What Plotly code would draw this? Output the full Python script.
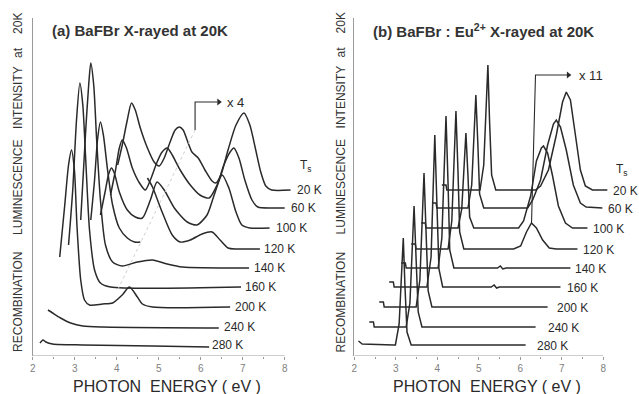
import plotly.graph_objects as go

# ---------------------------------------------------------------------------
# Recombination luminescence spectra after warming to T_s (waterfall plot).
# Energies are photon energies (eV) on the drawn axis, intensities are given
# relative to each spectrum's own baseline (arbitrary units).
# ---------------------------------------------------------------------------
TEMPS = ["20 K", "60 K", "100 K", "120 K", "140 K", "160 K", "200 K", "240 K", "280 K"]
# vertical stacking offset of every spectrum
OFFSETS = [166, 148, 128, 107, 88, 69, 49, 29, 11]

# ---- (a) BaFBr --------------------------------------------------------------
a_20_e = [4.02, 4.13, 4.25, 4.35, 4.44, 4.56, 4.73, 4.89, 5.01, 5.13, 5.27, 5.39, 5.49, 5.58, 5.70,
          5.79, 5.94, 6.10, 6.27, 6.36, 6.48, 6.65, 6.84, 7.03, 7.17, 7.31, 7.43, 7.55, 7.69, 8.14]
a_20_i = [25, 45, 70, 87, 80, 62, 42, 28, 24, 32, 48, 60, 63, 60, 47,
          38, 32, 20, 9, 7, 15, 40, 65, 77, 65, 40, 18, 4, 0, 0]

a_60_e = [3.85, 3.97, 4.06, 4.13, 4.23, 4.37, 4.54, 4.68, 4.80, 4.96, 5.08, 5.20, 5.32, 5.51,
          5.75, 5.98, 6.20, 6.39, 6.55, 6.70, 6.79, 6.91, 7.05, 7.22, 7.36, 7.69, 8.00]
a_60_i = [13, 38, 60, 68, 60, 40, 25, 18, 28, 46, 56, 60, 53, 38,
          23, 13, 10, 23, 43, 56, 60, 50, 28, 8, 1, 0, 0]

a_100_e = [3.61, 3.73, 3.80, 3.87, 3.94, 4.06, 4.25, 4.44, 4.61, 4.80, 4.96, 5.13, 5.37, 5.68,
           5.91, 6.15, 6.32, 6.51, 6.67, 6.84, 6.98, 7.17, 7.64]
a_100_i = [13, 38, 53, 60, 55, 36, 18, 11, 10, 28, 46, 38, 20, 6,
           3, 13, 33, 53, 40, 16, 3, 0, 0]

a_120_e = [3.38, 3.47, 3.54, 3.61, 3.68, 3.78, 3.90, 4.06, 4.25, 4.42, 4.56]
a_120_i = [29, 69, 109, 127, 114, 79, 44, 21, 11, 7, 7]
# x4 magnified part of the 120 K spectrum
a_120x_e = [4.73, 4.85, 5.08, 5.32, 5.51, 5.75, 6.03, 6.27, 6.46, 6.65, 6.86, 7.41]
a_120x_i = [71, 62, 37, 14, 7, 9, 15, 17, 9, 1, 0, 0]

a_140_e = [3.14, 3.26, 3.33, 3.38, 3.45, 3.52, 3.61, 3.73, 3.90, 4.13, 4.49, 4.85, 5.20, 5.56, 7.15]
a_140_i = [48, 138, 183, 205, 183, 128, 68, 23, 6, 2, 6, 8, 4, 1, 0]

a_160_e = [2.85, 2.95, 3.04, 3.12, 3.19, 3.26, 3.35, 3.47, 3.61, 3.85, 6.96]
a_160_i = [42, 97, 167, 204, 182, 127, 57, 17, 4, 0, 0]

a_200_e = [2.64, 2.76, 2.85, 2.92, 2.99, 3.05, 3.14, 3.23, 3.35, 3.66, 3.90, 4.13, 4.30, 4.49,
           4.61, 4.85, 6.70]
a_200_i = [50, 102, 142, 157, 137, 82, 27, 7, 2, 3, 4, 12, 20, 10, 3, 0, 0]

a_240_e = [2.36, 2.47, 2.66, 2.90, 3.19, 3.66, 6.43]
a_240_i = [17, 14, 9, 4, 1, 0, -1]

a_280_e = [2.17, 2.24, 2.31, 2.47, 3.19, 4.85, 6.20]
a_280_i = [2, 5, 3, 1, 0, -1, -2]

# ---- (b) BaFBr:Eu2+ ---------------------------------------------------------
b_20_e = [4.11, 4.21, 4.23, 5.03, 5.12, 5.17, 5.22, 5.26, 5.31, 5.41, 6.37, 6.49, 6.68, 6.87,
          7.02, 7.11, 7.21, 7.33, 7.45, 7.57, 7.74, 8.10]
b_20_i = [5, 5, 0, 0, 25, 81, 125, 69, 15, 0, 0, 4, 20, 55, 88, 98, 90, 55, 20, 4, 0, 0]

b_60_e = [3.87, 3.97, 3.99, 4.74, 4.83, 4.88, 4.93, 4.98, 5.02, 5.12, 6.18, 6.30, 6.49, 6.66,
          6.80, 6.87, 6.97, 7.11, 7.28, 7.45, 7.59, 7.98]
b_60_i = [5, 5, 0, 0, 23, 73, 113, 62, 14, 0, 0, 8, 28, 63, 84, 88, 81, 58, 23, 5, 1, 0]

b_100_e = [3.61, 3.71, 3.73, 4.50, 4.59, 4.64, 4.69, 4.74, 4.78, 4.88, 5.96, 6.08, 6.25, 6.39,
           6.51, 6.56, 6.66, 6.78, 6.92, 7.09, 7.26, 7.62]
b_100_i = [5, 5, 0, 0, 19, 62, 95, 52, 11, 0, 0, 7, 32, 67, 80, 82, 75, 52, 22, 5, 0, 0]

b_120_e = [3.37, 3.47, 3.49, 4.26, 4.35, 4.40, 4.45, 4.50, 4.54, 4.64, 5.84, 6.01, 6.15, 6.27,
           6.39, 6.54, 6.70, 6.87, 7.38]
b_120_i = [5, 5, 0, 0, 28, 90, 138, 76, 17, 0, 0, 3, 17, 26, 21, 9, 1, 0, 0]

b_140_e = [3.13, 3.23, 3.25, 4.02, 4.11, 4.16, 4.21, 4.26, 4.30, 4.40, 5.45, 5.52, 5.58, 5.66, 7.21]
b_140_i = [5, 5, 0, 0, 30, 99, 152, 84, 18, 0, 0, 2, -1, 0, 0]

b_160_e = [2.84, 2.94, 2.96, 3.75, 3.85, 3.90, 3.94, 3.99, 4.04, 4.13, 5.30, 5.37, 5.43, 5.50, 6.97]
b_160_i = [5, 5, 0, 0, 30, 99, 152, 84, 18, 0, 0, 2, -1, 0, 0]

b_200_e = [2.60, 2.70, 2.72, 3.49, 3.58, 3.63, 3.68, 3.73, 3.78, 3.87, 6.66]
b_200_i = [5, 5, 0, 0, 27, 87, 134, 74, 16, 0, 0]

b_240_e = [2.36, 2.46, 2.48, 3.25, 3.34, 3.39, 3.44, 3.49, 3.54, 3.63, 6.37]
b_240_i = [5, 5, 0, 0, 24, 79, 121, 67, 15, 0, 0]

b_280_e = [2.10, 2.19, 2.94, 2.99, 3.08, 3.13, 3.18, 3.22, 3.27, 3.37, 6.13]
b_280_i = [4, 1, 0, 0, 21, 70, 107, 59, 13, 0, 0]

A_SPECTRA = [
    [(a_20_e, a_20_i)],
    [(a_60_e, a_60_i)],
    [(a_100_e, a_100_i)],
    [(a_120_e, a_120_i), (a_120x_e, a_120x_i)],
    [(a_140_e, a_140_i)],
    [(a_160_e, a_160_i)],
    [(a_200_e, a_200_i)],
    [(a_240_e, a_240_i)],
    [(a_280_e, a_280_i)],
]
B_SPECTRA = [
    (b_20_e, b_20_i), (b_60_e, b_60_i), (b_100_e, b_100_i), (b_120_e, b_120_i),
    (b_140_e, b_140_i), (b_160_e, b_160_i), (b_200_e, b_200_i), (b_240_e, b_240_i),
    (b_280_e, b_280_i),
]

# label anchor energies (left edge of the temperature labels)
A_LABEL_E = [8.24, 8.10, 7.74, 7.45, 7.22, 7.00, 6.77, 6.51, 6.22]
B_LABEL_E = [8.20, 8.07, 7.71, 7.47, 7.28, 7.09, 6.85, 6.61, 6.35]

INK = "#2a2a2a"
AXIS = "#9a9a9a"
FONT = "Liberation Sans, Arial, sans-serif"

fig = go.Figure()

for k, segs in enumerate(A_SPECTRA):
    for e, inten in segs:
        fig.add_trace(go.Scatter(
            x=e, y=[v + OFFSETS[k] for v in inten], xaxis="x", yaxis="y",
            mode="lines", line=dict(color=INK, width=1.5, shape="spline", smoothing=0.7),
            hoverinfo="skip", showlegend=False))

for k, (e, inten) in enumerate(B_SPECTRA):
    fig.add_trace(go.Scatter(
        x=e, y=[v + OFFSETS[k] for v in inten], xaxis="x2", yaxis="y2",
        mode="lines", line=dict(color=INK, width=1.5),
        hoverinfo="skip", showlegend=False))

# arrowheads of the magnification markers
fig.add_trace(go.Scatter(x=[6.43], y=[254], xaxis="x", yaxis="y", mode="markers",
                         marker=dict(symbol="triangle-right", size=6, color=INK),
                         hoverinfo="skip", showlegend=False))
fig.add_trace(go.Scatter(x=[7.16], y=[281], xaxis="x2", yaxis="y2", mode="markers",
                         marker=dict(symbol="triangle-right", size=6, color=INK),
                         hoverinfo="skip", showlegend=False))

W, H = 639, 394
XA = [30 / W, 300 / W]
XB = [353 / W, 620 / W]
YD = [38 / H, 376 / H]

def xaxis_cfg(domain, anchor, xmax):
    return dict(domain=domain, anchor=anchor, range=[2, xmax], showline=False,
                showgrid=False, zeroline=False, tickvals=[2, 3, 4, 5, 6, 7, 8],
                ticks="outside", ticklen=3, tickcolor=AXIS, tickwidth=1,
                minor=dict(tickvals=[2.5, 3.5, 4.5, 5.5, 6.5, 7.5], ticks="outside",
                           ticklen=2, tickcolor=AXIS),
                tickfont=dict(family=FONT, size=10, color="#808080"))

def yaxis_cfg(anchor):
    return dict(domain=YD, anchor=anchor, range=[0, 338], showline=True, linecolor=AXIS,
                linewidth=1, showgrid=False, zeroline=False, showticklabels=False, ticks="")

fig.update_layout(
    width=W, height=H, margin=dict(l=0, r=0, t=0, b=0),
    paper_bgcolor="white", plot_bgcolor="white",
    xaxis=xaxis_cfg(XA, "y", 2 + 270 / 42.17),
    yaxis=yaxis_cfg("x"),
    xaxis2=xaxis_cfg(XB, "y2", 2 + 267 / 41.67),
    yaxis2=yaxis_cfg("x2"),
)

shapes = [
    # energy axes (2 - 8 eV)
    dict(type="line", xref="x", yref="y", x0=2, x1=8, y0=0, y1=0, line=dict(color=AXIS, width=1)),
    dict(type="line", xref="x2", yref="y2", x0=2, x1=8, y0=0, y1=0, line=dict(color=AXIS, width=1)),
    # x4 marker in (a)
    dict(type="path", xref="x", yref="y", path="M 5.865,226 L 5.865,254 L 6.40,254",
         line=dict(color=INK, width=1.1)),
    dict(type="line", xref="x", yref="y", x0=5.865, x1=4.02, y0=226, y1=66,
         line=dict(color="#cfcfcf", width=1, dash="dot")),
    # x11 marker in (b)
    dict(type="path", xref="x2", yref="y2", path="M 6.272,133 L 6.368,281 L 7.13,281",
         line=dict(color=INK, width=1.1)),
]
fig.update_layout(shapes=shapes)

ann = []
def label(**kw):
    kw.setdefault("showarrow", False)
    kw.setdefault("xanchor", "center")
    kw.setdefault("yanchor", "middle")
    ann.append(kw)

for k, t in enumerate(TEMPS):
    label(x=A_LABEL_E[k], y=OFFSETS[k], xref="x", yref="y", text=t, xanchor="left",
          font=dict(family=FONT, size=12, color=INK))
    label(x=B_LABEL_E[k], y=OFFSETS[k] - 1, xref="x2", yref="y2", text=t, xanchor="left",
          font=dict(family=FONT, size=12, color=INK))

# T_s headers
label(x=8.31, y=190, xref="x", yref="y", text="T<sub>s</sub>", xanchor="left",
      font=dict(family=FONT, size=12, color=INK))
label(x=8.27, y=186, xref="x2", yref="y2", text="T<sub>s</sub>", xanchor="left",
      font=dict(family=FONT, size=12, color=INK))

# magnification factors
label(x=6.58, y=254, xref="x", yref="y", text="x 4", xanchor="left",
      font=dict(family=FONT, size=13, color=INK))
label(x=7.38, y=281, xref="x2", yref="y2", text="x 11", xanchor="left",
      font=dict(family=FONT, size=13, color=INK))

# panel titles
label(x=47 / W, y=1 - 30 / H, xref="paper", yref="paper", xanchor="left",
      text="<b>(a) BaFBr X-rayed at 20K</b>", font=dict(family=FONT, size=15, color="#333"))
label(x=370 / W, y=1 - 30 / H, xref="paper", yref="paper", xanchor="left",
      text="<b>(b) BaFBr : Eu<sup>2+</sup> X-rayed at 20K</b>",
      font=dict(family=FONT, size=15, color="#333"))

# energy axis titles
for cx in (165, 486):
    label(x=cx / W, y=1 - 386 / H, xref="paper", yref="paper",
          text="PHOTON  ENERGY ( eV )", font=dict(family=FONT, size=16, color=INK))

# intensity axis titles, word by word along the vertical
WORDS = [("RECOMBINATION", 302), ("LUMINESCENCE", 187), ("INTENSITY", 97), ("at", 52), ("20K", 23)]
for px in (15, 340):
    for word, py in WORDS:
        label(x=px / W, y=1 - py / H, xref="paper", yref="paper", text=word, textangle=-90,
              font=dict(family=FONT, size=12, color="#333"))

fig.update_layout(annotations=ann)
fig.write_html("out.html")
